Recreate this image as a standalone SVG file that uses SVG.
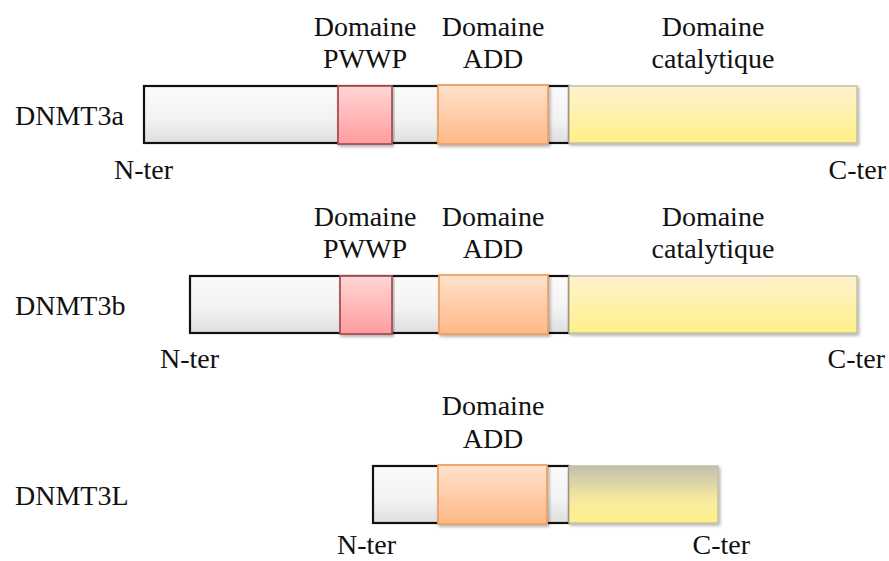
<svg xmlns="http://www.w3.org/2000/svg" width="889" height="561" viewBox="0 0 889 561">
<style>
text{font-family:"Liberation Serif","Tinos","DejaVu Serif","Times New Roman",serif;font-size:28px;fill:#111}
.c{text-anchor:middle}
.e{text-anchor:end}
.body{fill:url(#gW);stroke:#111;stroke-width:2.2}
.pwwp{fill:url(#gP);stroke:#a85055;stroke-width:1.8}
.add{fill:url(#gO);stroke:#f0a062;stroke-width:1.8}
.cat{fill:url(#gY);stroke:#c4bfa2;stroke-width:1.5}
.catL{fill:url(#gL);stroke:#c4bfa2;stroke-width:1.5}
</style>
<defs>
<linearGradient id="gW" x1="0" y1="0" x2="0" y2="1"><stop offset="0" stop-color="#fbfbfb"/><stop offset="0.6" stop-color="#f2f2f2"/><stop offset="1" stop-color="#dedede"/></linearGradient>
<linearGradient id="gP" x1="0" y1="0" x2="0" y2="1"><stop offset="0" stop-color="#ffd6d6"/><stop offset="1" stop-color="#ff9c9e"/></linearGradient>
<linearGradient id="gO" x1="0" y1="0" x2="0" y2="1"><stop offset="0" stop-color="#ffe2cc"/><stop offset="1" stop-color="#ffb886"/></linearGradient>
<linearGradient id="gY" x1="0" y1="0" x2="0" y2="1"><stop offset="0" stop-color="#fff2cf"/><stop offset="1" stop-color="#fff088"/></linearGradient>
<linearGradient id="gL" x1="0" y1="0" x2="0" y2="1"><stop offset="0" stop-color="#c2bfae"/><stop offset="0.6" stop-color="#f8eaa0"/><stop offset="1" stop-color="#fff28a"/></linearGradient>
<filter id="sh" x="-5%" y="-20%" width="110%" height="150%"><feDropShadow dx="1.5" dy="2" stdDeviation="1.5" flood-color="#000" flood-opacity="0.3"/></filter>
</defs>

<g id="dnmt3a" font-family="Liberation Serif, serif">
<text x="15" y="125">DNMT3a</text>
<rect class="body" x="144" y="86" width="425" height="57"/>
<rect class="pwwp" x="338" y="86" width="54" height="58" filter="url(#sh)"/>
<rect class="add" x="438" y="85" width="110" height="59" filter="url(#sh)"/>
<rect class="cat" x="569" y="86" width="288" height="57" filter="url(#sh)"/>
<text class="c" x="365" y="36">Domaine</text>
<text class="c" x="365" y="68">PWWP</text>
<text class="c" x="493" y="36">Domaine</text>
<text class="c" x="493" y="68">ADD</text>
<text class="c" x="713" y="36">Domaine</text>
<text class="c" x="713" y="68">catalytique</text>
<text x="114" y="179">N-ter</text>
<text class="e" x="886" y="179">C-ter</text>
</g>

<g id="dnmt3b" font-family="Liberation Serif, serif">
<text x="15" y="315">DNMT3b</text>
<rect class="body" x="190" y="276" width="379" height="57"/>
<rect class="pwwp" x="340" y="276" width="52" height="58" filter="url(#sh)"/>
<rect class="add" x="439" y="275" width="109" height="59" filter="url(#sh)"/>
<rect class="cat" x="569" y="276" width="288" height="57" filter="url(#sh)"/>
<text class="c" x="365" y="226">Domaine</text>
<text class="c" x="365" y="258">PWWP</text>
<text class="c" x="493" y="226">Domaine</text>
<text class="c" x="493" y="258">ADD</text>
<text class="c" x="713" y="226">Domaine</text>
<text class="c" x="713" y="258">catalytique</text>
<text x="160" y="368">N-ter</text>
<text class="e" x="885" y="368">C-ter</text>
</g>

<g id="dnmt3l" font-family="Liberation Serif, serif">
<text x="15" y="505">DNMT3L</text>
<rect class="body" x="373" y="466" width="196" height="57"/>
<rect class="add" x="438" y="465" width="109" height="59" filter="url(#sh)"/>
<rect class="catL" x="569" y="466" width="149" height="57" filter="url(#sh)"/>
<text class="c" x="493" y="415">Domaine</text>
<text class="c" x="493" y="448">ADD</text>
<text x="337" y="554">N-ter</text>
<text class="e" x="750" y="554">C-ter</text>
</g>

<g id="connectors"/>
</svg>
